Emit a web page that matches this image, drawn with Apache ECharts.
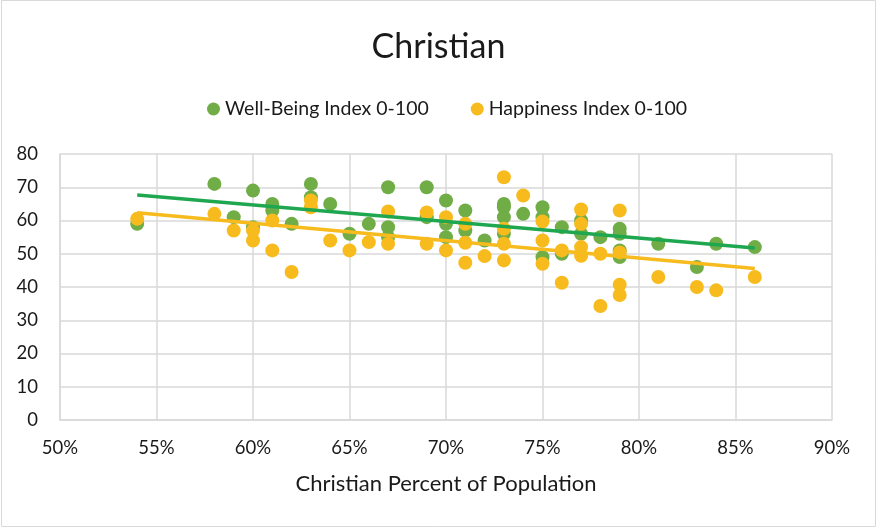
<!DOCTYPE html>
<html>
<head>
<meta charset="utf-8">
<script src="https://cdn.jsdelivr.net/npm/echarts@6/dist/echarts.min.js"></script>
<style>
html,body{margin:0;padding:0;background:#fff;}
#chart{width:877px;height:528px;}
</style>
</head>
<body>
<div id="chart"></div>
<script>
// Christian percent of population (x) and index values (y)
const wellBeingX = [54,58,59,60,60,61,61,62,63,63,64,65,66,67,67,67,69,69,70,70,70,71,71,72,73,73,73,73,74,75,75,75,76,76,77,77,78,79,79,79,79,81,83,84,86];
const wellBeingY = [59,71,61,69,58,65,63,59,71,67,65,56,59,70,58,55,70,61,66,59,55,63,57,54,65,64,61,56,62,64,61,49,58,50,60,56,55,57.5,56,51,49,53,46,53,52];
const happinessX = [54,58,59,60,60,61,61,62,63,63,64,65,66,67,67,69,69,70,70,71,71,71,72,73,73,73,73,74,75,75,75,76,76,77,77,77,77,78,78,79,79,79,79,81,83,84,86];
const happinessY = [60.5,62,57,57,54,60,51,44.5,66,64,54,51,53.5,62.7,53,62.4,53,61,51,59,53.3,47.3,49.3,73,57.5,53,48,67.5,59.7,54,47,51,41.3,63.3,59,52,49.4,50,34.3,63,50.4,40.7,37.6,43,40,39,43];
const seriesNames = ['Well-Being Index 0-100', 'Happiness Index 0-100'];
const xTicks = [50,55,60,65,70,75,80,85,90];
const yTicks = [0,10,20,30,40,50,60,70,80];

function pairs(xs, ys){ return xs.map((x,i)=>[x, ys[i]]); }
function trend(xs, ys){
  const n = xs.length;
  const mx = xs.reduce((a,b)=>a+b,0)/n, my = ys.reduce((a,b)=>a+b,0)/n;
  let sxy=0, sxx=0;
  for(let i=0;i<n;i++){ sxy+=(xs[i]-mx)*(ys[i]-my); sxx+=(xs[i]-mx)*(xs[i]-mx); }
  const b = sxy/sxx, a = my - b*mx;
  const x0 = Math.min(...xs), x1 = Math.max(...xs);
  return [[x0, a+b*x0],[x1, a+b*x1]];
}

const GREEN = '#70ad47', GOLD = '#f7bb1e', GREENLINE = '#1fa750';
const FONT = 'Lato, "Open Sans", sans-serif';
const TXT = '#1a1a1a';
const chart = echarts.init(document.getElementById('chart'));
chart.setOption({
  animation:false,
  backgroundColor:'#fff',
  textStyle:{fontFamily:FONT},
  graphic:[{type:'rect', shape:{x:1.5,y:0.5,width:874,height:526}, style:{fill:null, stroke:'#d9d9d9', lineWidth:1}, silent:true}],
  title:{text:'Christian', left:'center', top:25, textStyle:{fontFamily:FONT, fontSize:34, fontWeight:'normal', color:TXT}},
  legend:{
    data:[{name:seriesNames[0], icon:'circle'},{name:seriesNames[1], icon:'circle'}],
    top:94, left:202, itemWidth:13, itemHeight:13, itemGap:42,
    textStyle:{fontFamily:FONT, fontSize:19.5, color:TXT}
  },
  grid:{left:60, right:45, top:154, bottom:108},
  xAxis:{
    type:'value', min:xTicks[0], max:xTicks[xTicks.length-1], interval:5,
    name:'Christian Percent of Population', nameLocation:'middle', nameGap:53,
    nameTextStyle:{fontFamily:FONT, fontSize:22, color:TXT},
    axisLine:{show:true, lineStyle:{color:'#d9d9d9', width:1.5}},
    axisTick:{show:false},
    axisLabel:{formatter:'{value}%', fontSize:18.5, color:TXT, margin:19},
    splitLine:{show:true, lineStyle:{color:'#d9d9d9', width:1.5}}
  },
  yAxis:{
    type:'value', min:yTicks[0], max:yTicks[yTicks.length-1], interval:10,
    axisLine:{show:true, lineStyle:{color:'#d9d9d9', width:1.5}},
    axisTick:{show:false},
    axisLabel:{fontSize:18.5, color:TXT, margin:22},
    splitLine:{show:true, lineStyle:{color:'#d9d9d9', width:1.5}}
  },
  series:[
    {name:seriesNames[0], type:'scatter', data:pairs(wellBeingX, wellBeingY), symbolSize:14, itemStyle:{color:GREEN, opacity:1}},
    {name:'wbTrend', type:'line', data:trend(wellBeingX, wellBeingY), showSymbol:false, symbol:'none', lineStyle:{color:GREENLINE, width:3.5}, silent:true},
    {name:seriesNames[1], type:'scatter', data:pairs(happinessX, happinessY), symbolSize:14, itemStyle:{color:GOLD, opacity:1}},
    {name:'hTrend', type:'line', data:trend(happinessX, happinessY), showSymbol:false, symbol:'none', lineStyle:{color:GOLD, width:3.5}, silent:true}
  ]
});
</script>
</body>
</html>
